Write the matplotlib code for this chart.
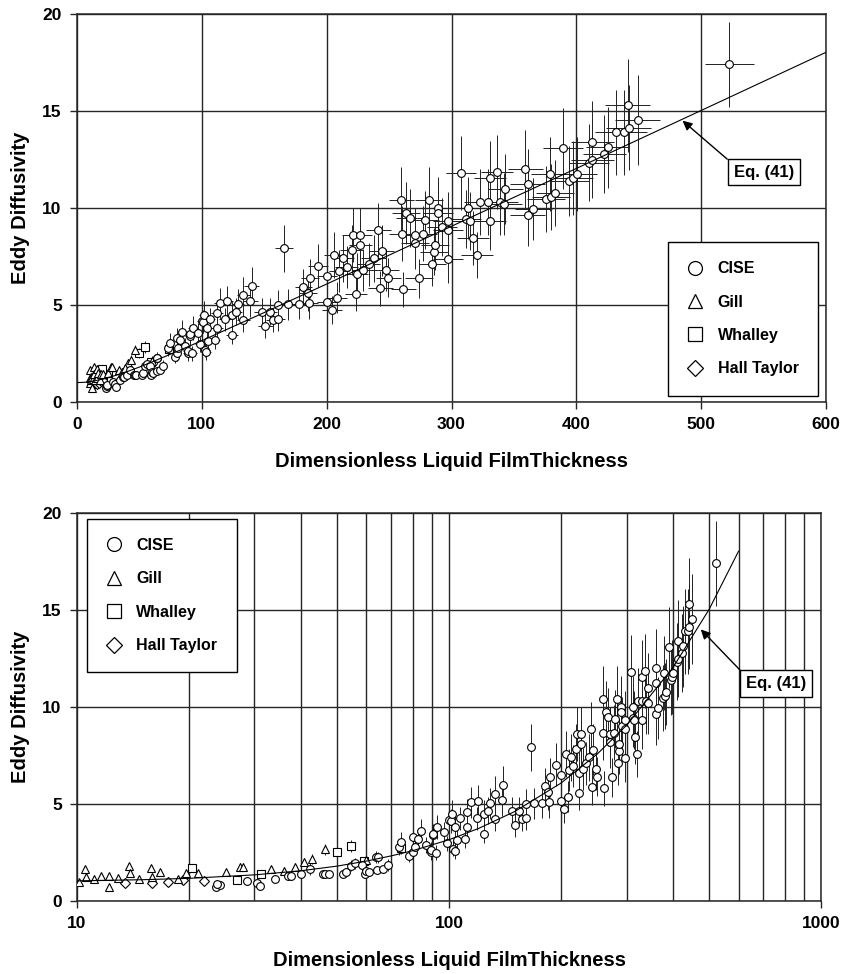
#!/usr/bin/env python3
"""Eddy diffusivity vs dimensionless liquid film thickness, linear and log x panels."""

import matplotlib

matplotlib.use("Agg")
import matplotlib.pyplot as plt
from matplotlib.lines import Line2D

# CISE data
CISE_X = [
    23.6, 24.3, 23.8, 28.6, 30.4, 31.0, 34.1, 37.0, 37.6, 40.0,
    42.4, 45.9, 46.5, 47.5, 51.8, 53.0, 54.5, 55.9, 58.5, 59.6,
    59.8, 61.0, 63.8, 64.0, 64.4, 66.5, 68.6, 73.2, 74.5, 78.2,
    79.9, 80.0, 80.8, 82.6, 84.0, 86.8, 89.2, 89.3, 90.5, 90.7,
    92.0, 93.0, 97.2, 98.6, 100.0, 101.2, 101.7, 102.5, 103.5, 103.9,
    105.0, 106.9, 110.6, 112.0, 112.0, 114.6, 118.6, 119.9, 124.0, 124.0,
    127.0, 129.0, 133.2, 133.3, 138.6, 140.0, 148.0, 150.6, 154.6, 157.3,
    161.3, 161.0, 166.0, 169.3, 178.0, 181.3, 185.0, 186.0, 186.7, 193.4,
    200.0, 200.0, 204.0, 206.0, 208.6, 210.0, 212.9, 216.0, 220.0, 220.9,
    223.3, 224.0, 227.0, 227.0, 229.0, 233.5, 237.5, 241.4, 242.8, 244.0,
    247.6, 249.5, 259.6, 260.0, 261.5, 263.5, 266.7, 270.8, 270.8, 274.0,
    277.0, 278.8, 282.0, 284.7, 286.0, 286.8, 289.0, 289.0, 292.0, 297.0,
    297.0, 297.5, 307.6, 311.4, 313.0, 315.0, 317.0, 320.2, 322.8, 329.5,
    330.9, 331.0, 336.2, 338.9, 342.3, 342.9, 358.9, 361.0, 361.0, 365.5,
    375.7, 378.9, 379.5, 383.0, 389.6, 394.0, 397.6, 400.3, 410.4, 412.8,
    412.8, 422.4, 425.0, 431.5, 438.5, 441.0, 442.0, 449.0, 522.6,
]
CISE_Y = [
    0.74, 0.84, 0.90, 1.05, 0.95, 0.79, 1.15, 1.31, 1.30, 1.40,
    1.65, 1.40, 1.39, 1.37, 1.39, 1.48, 1.83, 1.94, 1.87, 1.39,
    1.57, 1.48, 2.27, 1.60, 2.25, 1.67, 1.86, 2.78, 3.06, 2.32,
    2.53, 3.30, 2.80, 3.22, 3.63, 2.90, 2.53, 2.63, 3.38, 3.48,
    2.50, 3.82, 3.56, 2.97, 4.16, 4.13, 4.49, 2.70, 2.57, 3.82,
    3.14, 4.26, 3.22, 4.57, 3.82, 5.09, 4.26, 5.18, 3.47, 4.49,
    4.66, 5.03, 5.52, 4.23, 5.20, 5.98, 4.66, 3.92, 4.66, 4.23,
    4.98, 4.26, 7.92, 5.03, 5.07, 5.94, 5.60, 5.10, 6.37, 7.03,
    6.50, 5.17, 4.74, 7.58, 5.37, 6.76, 7.41, 6.96, 7.83, 8.60,
    5.57, 6.60, 8.60, 8.10, 6.80, 7.10, 7.40, 8.87, 5.86, 7.80,
    6.80, 6.40, 10.40, 8.68, 5.82, 9.76, 9.50, 8.60, 8.18, 6.37,
    8.68, 9.38, 10.40, 7.10, 7.75, 8.10, 10.00, 9.72, 9.00, 9.35,
    7.35, 8.87, 11.82, 9.43, 9.98, 9.35, 8.47, 7.58, 10.29, 10.29,
    11.56, 9.35, 11.86, 10.33, 10.19, 10.96, 12.00, 11.22, 9.64, 9.95,
    10.46, 11.75, 10.56, 10.79, 13.08, 11.39, 11.53, 11.74, 12.34, 12.50,
    13.42, 12.77, 13.13, 13.90, 13.90, 15.30, 14.14, 14.54, 17.40,
]
CISE_YERR = [
    0.1, 0.1, 0.1, 0.2, 0.1, 0.1, 0.2, 0.2, 0.2, 0.2,
    0.3, 0.2, 0.2, 0.2, 0.2, 0.2, 0.3, 0.3, 0.3, 0.2,
    0.2, 0.2, 0.3, 0.2, 0.3, 0.2, 0.3, 0.4, 0.5, 0.3,
    0.4, 0.5, 0.4, 0.5, 0.6, 0.4, 0.4, 0.4, 0.5, 0.5,
    0.4, 0.6, 0.5, 0.4, 0.6, 0.6, 0.7, 0.4, 0.4, 0.6,
    0.5, 0.6, 0.5, 0.7, 0.6, 0.8, 0.6, 0.8, 0.5, 0.7,
    0.7, 0.8, 0.9, 0.6, 0.8, 1.0, 0.7, 0.6, 0.7, 0.6,
    0.8, 0.6, 1.2, 0.8, 0.8, 0.9, 0.9, 0.8, 1.0, 1.1,
    1.0, 0.8, 0.7, 1.2, 0.8, 1.1, 1.2, 1.1, 1.3, 1.4,
    0.9, 1.1, 1.4, 1.3, 1.1, 1.1, 1.2, 1.4, 0.9, 1.3,
    1.1, 1.0, 1.7, 1.4, 0.9, 1.6, 1.5, 1.4, 1.3, 1.0,
    1.4, 1.5, 1.7, 1.1, 1.2, 1.3, 1.6, 1.6, 1.5, 1.5,
    1.2, 1.4, 1.9, 1.5, 1.6, 1.5, 1.4, 1.2, 1.7, 1.7,
    1.9, 1.5, 1.9, 1.7, 1.6, 1.8, 2.0, 1.8, 1.6, 1.6,
    1.7, 1.9, 1.7, 1.7, 2.1, 1.8, 1.9, 1.9, 2.0, 2.0,
    2.1, 2.0, 2.1, 2.2, 2.2, 2.4, 2.2, 2.3, 2.2,
]
CISE_XERR = [
    1, 1, 1, 1, 1, 1, 1, 1, 2, 2,
    2, 2, 2, 2, 2, 2, 2, 2, 2, 2,
    2, 2, 3, 3, 3, 3, 3, 3, 3, 3,
    3, 3, 3, 3, 3, 3, 4, 4, 4, 4,
    4, 4, 4, 4, 4, 4, 4, 4, 4, 4,
    4, 4, 4, 5, 5, 5, 5, 5, 5, 5,
    5, 5, 5, 5, 6, 6, 6, 6, 6, 6,
    6, 6, 7, 7, 7, 7, 7, 7, 7, 8,
    8, 8, 8, 8, 8, 8, 9, 9, 9, 9,
    9, 9, 9, 9, 9, 9, 10, 10, 10, 10,
    10, 10, 10, 10, 10, 11, 11, 11, 11, 11,
    11, 11, 11, 11, 11, 11, 12, 12, 12, 12,
    12, 12, 12, 12, 13, 13, 13, 13, 13, 13,
    13, 13, 13, 14, 14, 14, 14, 14, 14, 15,
    15, 15, 15, 15, 16, 16, 16, 16, 16, 17,
    17, 17, 17, 17, 18, 18, 18, 18, 20,
]

GILL_X = [10.1, 10.5, 10.6, 11.1, 11.6, 12.2, 12.2, 12.9, 13.8, 13.9,
          14.7, 15.8, 15.9, 16.7, 18.7, 19.6, 21.2, 25.2, 27.4, 28.0,
          33.3, 36.1, 40.8, 42.9, 46.4, 38.5, 60.0]
GILL_Y = [1.00, 1.63, 1.25, 1.12, 1.27, 1.27, 0.74, 1.17, 1.82, 1.44,
          1.12, 1.68, 1.22, 1.51, 1.12, 1.46, 1.43, 1.48, 1.78, 1.78,
          1.63, 1.56, 2.03, 2.15, 2.66, 1.75, 2.10]
GILL_YERR = [0.1, 0.15, 0.1, 0.1, 0.1, 0.1, 0.1, 0.1, 0.15, 0.1,
             0.1, 0.15, 0.1, 0.15, 0.1, 0.15, 0.15, 0.15, 0.2, 0.2,
             0.2, 0.2, 0.2, 0.25, 0.3, 0.2, 0.25]

WHALLEY_X = [20.4, 27.0, 31.3, 50.0, 54.6, 74.1, 59.0]
WHALLEY_Y = [1.72, 1.08, 1.37, 2.54, 2.84, 2.75, 2.05]
WHALLEY_YERR = [0.15, 0.1, 0.15, 0.25, 0.3, 0.3, 0.2]

HALL_X = [13.5, 15.9, 17.6, 19.3, 22.0]
HALL_Y = [0.95, 0.95, 1.00, 1.08, 1.05]
HALL_YERR = [0.1, 0.1, 0.1, 0.1, 0.1]

# Eq. (41) curve
EQ_X = [0, 5, 10, 15, 20, 30, 40, 50, 60, 70, 80, 100, 120, 150, 200, 250, 300, 400, 500, 600]
EQ_Y = [1.00, 1.01, 1.04, 1.10, 1.17, 1.35, 1.56, 1.80, 2.06, 2.33, 2.60, 3.16, 3.74,
        4.61, 6.08, 7.57, 9.06, 12.04, 15.03, 18.03]

SERIES = [
    ("CISE", CISE_X, CISE_Y, CISE_YERR, CISE_XERR, "o"),
    ("Gill", GILL_X, GILL_Y, GILL_YERR, None, "^"),
    ("Whalley", WHALLEY_X, WHALLEY_Y, WHALLEY_YERR, None, "s"),
    ("Hall Taylor", HALL_X, HALL_Y, HALL_YERR, None, "D"),
]

plt.rcParams["font.family"] = ["Liberation Sans", "DejaVu Sans"]
plt.rcParams["font.weight"] = "bold"

GRID = "#262626"
MSIZE = {"o": 5.6, "^": 5.6, "s": 5.6, "D": 4.6}
LSIZE = {"o": 10, "^": 10, "s": 10.5, "D": 8}


def draw_panel(ax, log_x):
    for name, xs, ys, yerr, xerr, mk in SERIES[::-1]:
        ax.errorbar(
            xs, ys, yerr=yerr, xerr=None if log_x else xerr,
            fmt=mk, ms=MSIZE[mk], mfc="white", mec="black", mew=0.8,
            ecolor="#222222", elinewidth=0.7, capsize=0, zorder=3,
        )
    if log_x:
        pts = [(x, y) for x, y in zip(EQ_X, EQ_Y) if x >= 10]
        ax.plot([p[0] for p in pts], [p[1] for p in pts], color="black", lw=0.8, zorder=4)
    else:
        ax.plot(EQ_X, EQ_Y, color="black", lw=0.8, zorder=4)

    ax.set_ylim(0, 20)
    ax.set_yticks([0, 5, 10, 15, 20])
    ax.grid(True, which="major", color=GRID, lw=1.0)
    ax.set_axisbelow(True)
    for sp in ax.spines.values():
        sp.set_color(GRID)
        sp.set_linewidth(1.1)
    ax.tick_params(axis="both", which="major", direction="out", length=5, width=1,
                   labelsize=12.5, pad=6, color=GRID)
    ax.set_ylabel("Eddy Diffusivity", fontsize=14.5, fontweight="bold", labelpad=9)
    ax.set_xlabel("Dimensionless Liquid FilmThickness", fontsize=14.5, fontweight="bold",
                  labelpad=14)

    handles = [
        Line2D([], [], ls="none", marker=mk, ms=LSIZE[mk], mfc="white", mec="black", mew=0.9)
        for _, _, _, _, _, mk in SERIES
    ]
    return handles


def add_legend(ax, handles, anchor):
    ax.legend(handles, [s[0] for s in SERIES], loc="upper left", bbox_to_anchor=anchor,
              frameon=True, fancybox=False, edgecolor="black", framealpha=1,
              prop={"size": 11.5, "weight": "bold"}, labelspacing=1.15, borderpad=1.2,
              handletextpad=0.9, handlelength=1.0, borderaxespad=0)


def add_eq_label(ax, tip, box):
    ax.annotate("Eq. (41)", xy=tip, xytext=box, fontsize=12, fontweight="bold",
                ha="center", va="center", zorder=6,
                bbox=dict(boxstyle="square,pad=0.35", fc="white", ec="black", lw=1),
                arrowprops=dict(arrowstyle="-|>", color="black", lw=1, mutation_scale=14,
                                relpos=(0, 1), shrinkA=0, shrinkB=0))


fig = plt.figure(figsize=(8.43, 9.74), dpi=100)
ax1 = fig.add_axes([0.0913, 0.5873, 0.8887, 0.3983])
ax2 = fig.add_axes([0.0913, 0.0749, 0.8827, 0.3984])

# top panel, linear x
h = draw_panel(ax1, log_x=False)
ax1.set_xlim(0, 600)
ax1.set_xticks(range(0, 601, 100))
add_legend(ax1, h, (0.789, 0.412))
add_eq_label(ax1, (485, 14.5), (550, 11.85))

# bottom panel, log x
h = draw_panel(ax2, log_x=True)
ax2.set_xscale("log")
ax2.set_xlim(10, 1000)
ax2.set_xticks([10, 100, 1000], labels=["10", "100", "1000"])
ax2.set_xticks([m * d for d in (10, 100) for m in range(2, 10)], minor=True)
ax2.tick_params(axis="x", which="minor", length=0, labelbottom=False)
ax2.grid(True, which="minor", axis="x", color=GRID, lw=1.0)
add_legend(ax2, h, (0.0134, 0.985))
add_eq_label(ax2, (475, 14.0), (757, 11.2))

for ax in (ax1, ax2):
    for lab in ax.get_xticklabels() + ax.get_yticklabels():
        lab.set_fontweight("bold")

fig.savefig("out.png", dpi=100, facecolor="white")
